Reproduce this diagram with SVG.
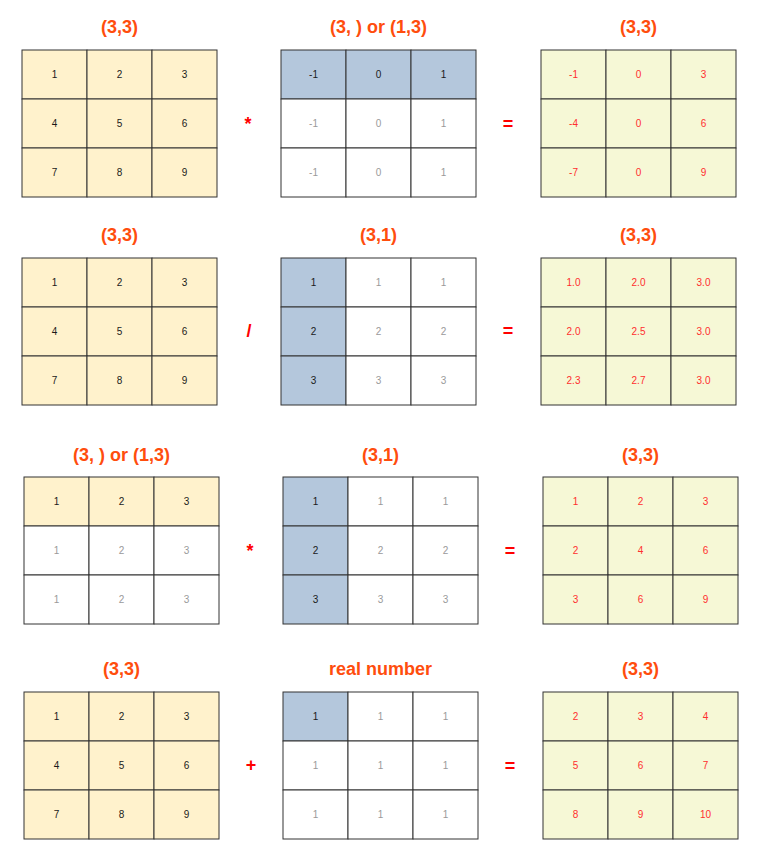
<svg xmlns="http://www.w3.org/2000/svg" width="764" height="852" viewBox="0 0 764 852">
<style>
rect{stroke:#333333;stroke-width:1}
.y{fill:#FFF2CC}.b{fill:#B4C7DC}.w{fill:#FFFFFF}.g{fill:#F6F8D6}
text{font-family:"Liberation Sans",Arial,sans-serif;text-anchor:middle}
.n{font-size:10px}
.t{fill:#1a1a1a}.f{fill:#9a9a9a}.r{fill:#FF2E2E}
.h{font-size:18px;font-weight:bold;fill:#FF4D0D}
.o{font-size:18px;font-weight:bold;fill:#FF0000}
</style>
<rect x="0" y="0" width="764" height="852" style="fill:#FFFFFF;stroke:none"/>

<g id="titles">
<text class="h" x="119.5" y="33">(3,3)</text>
<text class="h" x="378.5" y="33">(3, ) or (1,3)</text>
<text class="h" x="638.5" y="33">(3,3)</text>
<text class="h" x="119.5" y="241">(3,3)</text>
<text class="h" x="378.5" y="241">(3,1)</text>
<text class="h" x="638.5" y="241">(3,3)</text>
<text class="h" x="121.5" y="461">(3, ) or (1,3)</text>
<text class="h" x="380.5" y="461">(3,1)</text>
<text class="h" x="640.5" y="461">(3,3)</text>
<text class="h" x="121.5" y="675">(3,3)</text>
<text class="h" x="380.5" y="675">real number</text>
<text class="h" x="640.5" y="675">(3,3)</text>
</g>

<g id="operators">
<text class="o" x="248" y="130">*</text>
<text class="o" x="508" y="129.5">=</text>
<text class="o" x="249" y="336.5">/</text>
<text class="o" x="508" y="337">=</text>
<text class="o" x="250" y="557">*</text>
<text class="o" x="510" y="556.5">=</text>
<text class="o" x="251" y="771">+</text>
<text class="o" x="510" y="771.5">=</text>
</g>

<!-- Row 1 -->
<g id="r1-left">
<rect class="y" x="22" y="50" width="65" height="49"/><rect class="y" x="87" y="50" width="65" height="49"/><rect class="y" x="152" y="50" width="65" height="49"/>
<rect class="y" x="22" y="99" width="65" height="49"/><rect class="y" x="87" y="99" width="65" height="49"/><rect class="y" x="152" y="99" width="65" height="49"/>
<rect class="y" x="22" y="148" width="65" height="49"/><rect class="y" x="87" y="148" width="65" height="49"/><rect class="y" x="152" y="148" width="65" height="49"/>
<text class="n t" x="54.5" y="78">1</text><text class="n t" x="119.5" y="78">2</text><text class="n t" x="184.5" y="78">3</text>
<text class="n t" x="54.5" y="127">4</text><text class="n t" x="119.5" y="127">5</text><text class="n t" x="184.5" y="127">6</text>
<text class="n t" x="54.5" y="176">7</text><text class="n t" x="119.5" y="176">8</text><text class="n t" x="184.5" y="176">9</text>
</g>
<g id="r1-mid">
<rect class="b" x="281" y="50" width="65" height="49"/><rect class="b" x="346" y="50" width="65" height="49"/><rect class="b" x="411" y="50" width="65" height="49"/>
<rect class="w" x="281" y="99" width="65" height="49"/><rect class="w" x="346" y="99" width="65" height="49"/><rect class="w" x="411" y="99" width="65" height="49"/>
<rect class="w" x="281" y="148" width="65" height="49"/><rect class="w" x="346" y="148" width="65" height="49"/><rect class="w" x="411" y="148" width="65" height="49"/>
<text class="n t" x="313.5" y="78">-1</text><text class="n t" x="378.5" y="78">0</text><text class="n t" x="443.5" y="78">1</text>
<text class="n f" x="313.5" y="127">-1</text><text class="n f" x="378.5" y="127">0</text><text class="n f" x="443.5" y="127">1</text>
<text class="n f" x="313.5" y="176">-1</text><text class="n f" x="378.5" y="176">0</text><text class="n f" x="443.5" y="176">1</text>
</g>
<g id="r1-right">
<rect class="g" x="541" y="50" width="65" height="49"/><rect class="g" x="606" y="50" width="65" height="49"/><rect class="g" x="671" y="50" width="65" height="49"/>
<rect class="g" x="541" y="99" width="65" height="49"/><rect class="g" x="606" y="99" width="65" height="49"/><rect class="g" x="671" y="99" width="65" height="49"/>
<rect class="g" x="541" y="148" width="65" height="49"/><rect class="g" x="606" y="148" width="65" height="49"/><rect class="g" x="671" y="148" width="65" height="49"/>
<text class="n r" x="573.5" y="78">-1</text><text class="n r" x="638.5" y="78">0</text><text class="n r" x="703.5" y="78">3</text>
<text class="n r" x="573.5" y="127">-4</text><text class="n r" x="638.5" y="127">0</text><text class="n r" x="703.5" y="127">6</text>
<text class="n r" x="573.5" y="176">-7</text><text class="n r" x="638.5" y="176">0</text><text class="n r" x="703.5" y="176">9</text>
</g>

<!-- Row 2 -->
<g id="r2-left">
<rect class="y" x="22" y="258" width="65" height="49"/><rect class="y" x="87" y="258" width="65" height="49"/><rect class="y" x="152" y="258" width="65" height="49"/>
<rect class="y" x="22" y="307" width="65" height="49"/><rect class="y" x="87" y="307" width="65" height="49"/><rect class="y" x="152" y="307" width="65" height="49"/>
<rect class="y" x="22" y="356" width="65" height="49"/><rect class="y" x="87" y="356" width="65" height="49"/><rect class="y" x="152" y="356" width="65" height="49"/>
<text class="n t" x="54.5" y="286">1</text><text class="n t" x="119.5" y="286">2</text><text class="n t" x="184.5" y="286">3</text>
<text class="n t" x="54.5" y="335">4</text><text class="n t" x="119.5" y="335">5</text><text class="n t" x="184.5" y="335">6</text>
<text class="n t" x="54.5" y="384">7</text><text class="n t" x="119.5" y="384">8</text><text class="n t" x="184.5" y="384">9</text>
</g>
<g id="r2-mid">
<rect class="b" x="281" y="258" width="65" height="49"/><rect class="w" x="346" y="258" width="65" height="49"/><rect class="w" x="411" y="258" width="65" height="49"/>
<rect class="b" x="281" y="307" width="65" height="49"/><rect class="w" x="346" y="307" width="65" height="49"/><rect class="w" x="411" y="307" width="65" height="49"/>
<rect class="b" x="281" y="356" width="65" height="49"/><rect class="w" x="346" y="356" width="65" height="49"/><rect class="w" x="411" y="356" width="65" height="49"/>
<text class="n t" x="313.5" y="286">1</text><text class="n f" x="378.5" y="286">1</text><text class="n f" x="443.5" y="286">1</text>
<text class="n t" x="313.5" y="335">2</text><text class="n f" x="378.5" y="335">2</text><text class="n f" x="443.5" y="335">2</text>
<text class="n t" x="313.5" y="384">3</text><text class="n f" x="378.5" y="384">3</text><text class="n f" x="443.5" y="384">3</text>
</g>
<g id="r2-right">
<rect class="g" x="541" y="258" width="65" height="49"/><rect class="g" x="606" y="258" width="65" height="49"/><rect class="g" x="671" y="258" width="65" height="49"/>
<rect class="g" x="541" y="307" width="65" height="49"/><rect class="g" x="606" y="307" width="65" height="49"/><rect class="g" x="671" y="307" width="65" height="49"/>
<rect class="g" x="541" y="356" width="65" height="49"/><rect class="g" x="606" y="356" width="65" height="49"/><rect class="g" x="671" y="356" width="65" height="49"/>
<text class="n r" x="573.5" y="286">1.0</text><text class="n r" x="638.5" y="286">2.0</text><text class="n r" x="703.5" y="286">3.0</text>
<text class="n r" x="573.5" y="335">2.0</text><text class="n r" x="638.5" y="335">2.5</text><text class="n r" x="703.5" y="335">3.0</text>
<text class="n r" x="573.5" y="384">2.3</text><text class="n r" x="638.5" y="384">2.7</text><text class="n r" x="703.5" y="384">3.0</text>
</g>

<!-- Row 3 -->
<g id="r3-left">
<rect class="y" x="24" y="477" width="65" height="49"/><rect class="y" x="89" y="477" width="65" height="49"/><rect class="y" x="154" y="477" width="65" height="49"/>
<rect class="w" x="24" y="526" width="65" height="49"/><rect class="w" x="89" y="526" width="65" height="49"/><rect class="w" x="154" y="526" width="65" height="49"/>
<rect class="w" x="24" y="575" width="65" height="49"/><rect class="w" x="89" y="575" width="65" height="49"/><rect class="w" x="154" y="575" width="65" height="49"/>
<text class="n t" x="56.5" y="505">1</text><text class="n t" x="121.5" y="505">2</text><text class="n t" x="186.5" y="505">3</text>
<text class="n f" x="56.5" y="554">1</text><text class="n f" x="121.5" y="554">2</text><text class="n f" x="186.5" y="554">3</text>
<text class="n f" x="56.5" y="603">1</text><text class="n f" x="121.5" y="603">2</text><text class="n f" x="186.5" y="603">3</text>
</g>
<g id="r3-mid">
<rect class="b" x="283" y="477" width="65" height="49"/><rect class="w" x="348" y="477" width="65" height="49"/><rect class="w" x="413" y="477" width="65" height="49"/>
<rect class="b" x="283" y="526" width="65" height="49"/><rect class="w" x="348" y="526" width="65" height="49"/><rect class="w" x="413" y="526" width="65" height="49"/>
<rect class="b" x="283" y="575" width="65" height="49"/><rect class="w" x="348" y="575" width="65" height="49"/><rect class="w" x="413" y="575" width="65" height="49"/>
<text class="n t" x="315.5" y="505">1</text><text class="n f" x="380.5" y="505">1</text><text class="n f" x="445.5" y="505">1</text>
<text class="n t" x="315.5" y="554">2</text><text class="n f" x="380.5" y="554">2</text><text class="n f" x="445.5" y="554">2</text>
<text class="n t" x="315.5" y="603">3</text><text class="n f" x="380.5" y="603">3</text><text class="n f" x="445.5" y="603">3</text>
</g>
<g id="r3-right">
<rect class="g" x="543" y="477" width="65" height="49"/><rect class="g" x="608" y="477" width="65" height="49"/><rect class="g" x="673" y="477" width="65" height="49"/>
<rect class="g" x="543" y="526" width="65" height="49"/><rect class="g" x="608" y="526" width="65" height="49"/><rect class="g" x="673" y="526" width="65" height="49"/>
<rect class="g" x="543" y="575" width="65" height="49"/><rect class="g" x="608" y="575" width="65" height="49"/><rect class="g" x="673" y="575" width="65" height="49"/>
<text class="n r" x="575.5" y="505">1</text><text class="n r" x="640.5" y="505">2</text><text class="n r" x="705.5" y="505">3</text>
<text class="n r" x="575.5" y="554">2</text><text class="n r" x="640.5" y="554">4</text><text class="n r" x="705.5" y="554">6</text>
<text class="n r" x="575.5" y="603">3</text><text class="n r" x="640.5" y="603">6</text><text class="n r" x="705.5" y="603">9</text>
</g>

<!-- Row 4 -->
<g id="r4-left">
<rect class="y" x="24" y="692" width="65" height="49"/><rect class="y" x="89" y="692" width="65" height="49"/><rect class="y" x="154" y="692" width="65" height="49"/>
<rect class="y" x="24" y="741" width="65" height="49"/><rect class="y" x="89" y="741" width="65" height="49"/><rect class="y" x="154" y="741" width="65" height="49"/>
<rect class="y" x="24" y="790" width="65" height="49"/><rect class="y" x="89" y="790" width="65" height="49"/><rect class="y" x="154" y="790" width="65" height="49"/>
<text class="n t" x="56.5" y="720">1</text><text class="n t" x="121.5" y="720">2</text><text class="n t" x="186.5" y="720">3</text>
<text class="n t" x="56.5" y="769">4</text><text class="n t" x="121.5" y="769">5</text><text class="n t" x="186.5" y="769">6</text>
<text class="n t" x="56.5" y="818">7</text><text class="n t" x="121.5" y="818">8</text><text class="n t" x="186.5" y="818">9</text>
</g>
<g id="r4-mid">
<rect class="b" x="283" y="692" width="65" height="49"/><rect class="w" x="348" y="692" width="65" height="49"/><rect class="w" x="413" y="692" width="65" height="49"/>
<rect class="w" x="283" y="741" width="65" height="49"/><rect class="w" x="348" y="741" width="65" height="49"/><rect class="w" x="413" y="741" width="65" height="49"/>
<rect class="w" x="283" y="790" width="65" height="49"/><rect class="w" x="348" y="790" width="65" height="49"/><rect class="w" x="413" y="790" width="65" height="49"/>
<text class="n t" x="315.5" y="720">1</text><text class="n f" x="380.5" y="720">1</text><text class="n f" x="445.5" y="720">1</text>
<text class="n f" x="315.5" y="769">1</text><text class="n f" x="380.5" y="769">1</text><text class="n f" x="445.5" y="769">1</text>
<text class="n f" x="315.5" y="818">1</text><text class="n f" x="380.5" y="818">1</text><text class="n f" x="445.5" y="818">1</text>
</g>
<g id="r4-right">
<rect class="g" x="543" y="692" width="65" height="49"/><rect class="g" x="608" y="692" width="65" height="49"/><rect class="g" x="673" y="692" width="65" height="49"/>
<rect class="g" x="543" y="741" width="65" height="49"/><rect class="g" x="608" y="741" width="65" height="49"/><rect class="g" x="673" y="741" width="65" height="49"/>
<rect class="g" x="543" y="790" width="65" height="49"/><rect class="g" x="608" y="790" width="65" height="49"/><rect class="g" x="673" y="790" width="65" height="49"/>
<text class="n r" x="575.5" y="720">2</text><text class="n r" x="640.5" y="720">3</text><text class="n r" x="705.5" y="720">4</text>
<text class="n r" x="575.5" y="769">5</text><text class="n r" x="640.5" y="769">6</text><text class="n r" x="705.5" y="769">7</text>
<text class="n r" x="575.5" y="818">8</text><text class="n r" x="640.5" y="818">9</text><text class="n r" x="705.5" y="818">10</text>
</g>
</svg>
